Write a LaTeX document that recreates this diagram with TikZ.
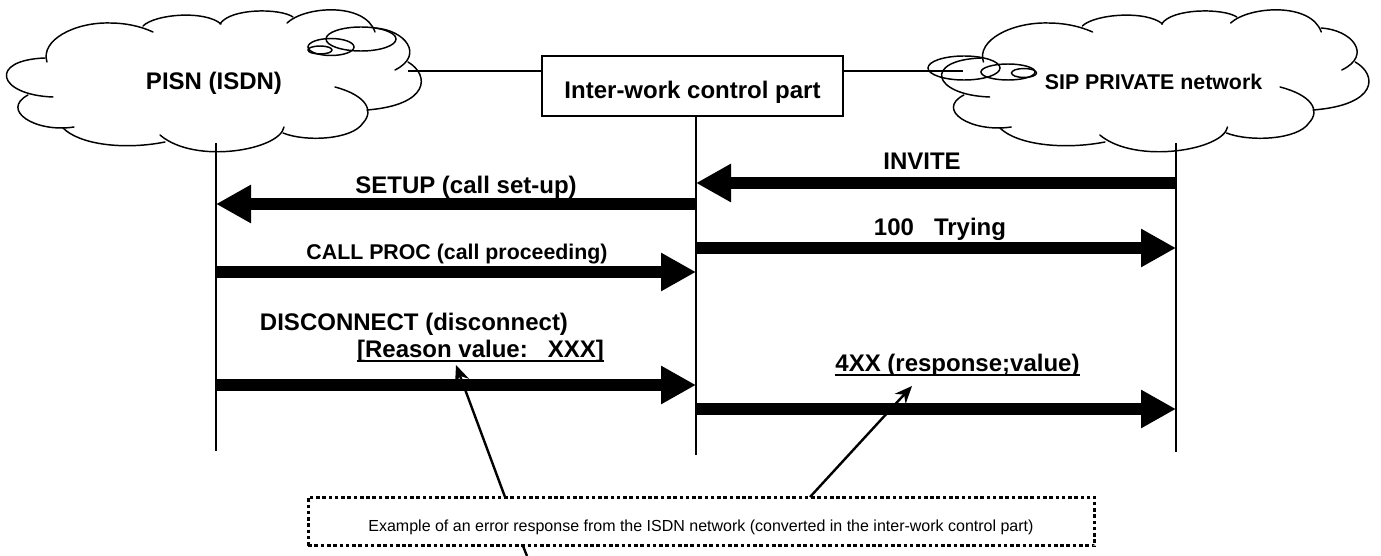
\documentclass[tikz,border=0pt]{standalone}
\usepackage{fontspec}
\setmainfont{Liberation Sans}
\usetikzlibrary{arrows.meta}
\newcommand{\cloudarcs}{%
  \draw[cloudline] (47,62) .. controls (40,40) and (75,22) .. (110,23) .. controls (125,23) and (140,26) .. (153,32);
  \draw[cloudline] (143,26) .. controls (155,14) and (205,10) .. (221,24);
  \draw[cloudline] (220,24) .. controls (230,8) and (280,8) .. (293,17);
  \draw[cloudline] (287,23) .. controls (305,6) and (365,2) .. (375,32);
  \draw[cloudline] (375,28) .. controls (405,30) and (425,55) .. (395,70);
  \draw[cloudline] (408,62) .. controls (430,75) and (430,105) .. (367,110);
  \draw[cloudline] (335,87) .. controls (365,95) and (375,110) .. (363,123) .. controls (352,140) and (305,142) .. (283,133);
  \draw[cloudline] (284,127) .. controls (280,150) and (195,165) .. (160,135);
  \draw[cloudline] (165,142) .. controls (125,150) and (80,145) .. (63,128);
  \draw[cloudline] (74,127) .. controls (35,133) and (0,110) .. (28,95);
  \draw[cloudline] (53,97) .. controls (-3,95) and (-12,60) .. (45,58);
}
\tikzset{
  x=0.75pt,y=-0.75pt,
  cloudline/.style={line width=1.1pt,line cap=round},
  life/.style={line width=1.3pt},
  msg/.style={line width=9pt,-{Triangle[length=26.25pt,width=27pt]}},
  callout/.style={line width=1.8pt,-{Stealth[length=13pt,width=11pt]}},
  big/.style={inner sep=0pt,anchor=base,font=\bfseries\fontsize{18}{20}\selectfont},
  mid/.style={inner sep=0pt,anchor=base,font=\bfseries\fontsize{16}{18}\selectfont},
  ul/.style={line width=1.6pt},
  dotbox/.style={draw,line width=2.4pt,dash pattern=on 2.7pt off 2pt},
}
\begin{document}
\begin{tikzpicture}
\useasboundingbox (0,0) rectangle (1381,556);
\cloudarcs
\begin{scope}[shift={(935,0)},xscale=1.03]
\cloudarcs
\end{scope}
\foreach \n/\cx/\cy/\rx/\ry in {a/361/39/35/12,b/331/47/23/8.5,c/320/50/12/4,d/964/68/36/12,e/1008/72/27/8,f/1024/73/12.5/4.5}
  \draw[cloudline] (\cx,\cy) ellipse [x radius=\rx,y radius=\ry];

\node[big] (pisn) at (214,90) {PISN (ISDN)};
\node[mid] (sip) at (1153.5,90) {SIP PRIVATE network};

\node[draw,line width=1.5pt,minimum width=225.75pt,minimum height=45pt,inner sep=0pt] (iw) at (692.5,86) {};
\node[big] (iwt) at (692.5,99) {Inter-work control part};

\coordinate (linkL) at (408,71);
\coordinate (linkR) at (963,71);
\draw[life] (linkL) -- (linkL -| iw.west);
\draw[life] (iw.east |- linkR) -- (linkR);

\coordinate (Ltop) at (216,143); \coordinate (Lbot) at (216,451);
\coordinate (Ctop) at (696,116); \coordinate (Cbot) at (696,455);
\coordinate (Rtop) at (1176,143); \coordinate (Rbot) at (1176,452);
\draw[life] (Ltop) -- (Lbot);
\draw[life] (Ctop) -- (Cbot);
\draw[life] (Rtop) -- (Rbot);

\coordinate (y1) at (0,183);
\coordinate (y2) at (0,204);
\coordinate (y3) at (0,248);
\coordinate (y4) at (0,272);
\coordinate (y5) at (0,385);
\coordinate (y6) at (0,409);
\draw[msg] (Rtop |- y1) -- (Ctop |- y1);
\draw[msg] (Ctop |- y2) -- (Ltop |- y2);
\draw[msg] (Ctop |- y3) -- (Rtop |- y3);
\draw[msg] (Ltop |- y4) -- (Ctop |- y4);
\draw[msg] (Ltop |- y5) -- (Ctop |- y5);
\draw[msg] (Ctop |- y6) -- (Rtop |- y6);

\node[big] (invite) at (922,170) {INVITE};
\node[big] (setup) at (466,194) {SETUP (call set-up)};
\node[big] (trying) at (940,235) {100\ \ \ Trying};
\node[mid] (proc) at (457,259) {CALL PROC (call proceeding)};
\node[big] (disc) at (414,330) {DISCONNECT (disconnect)};
\node[big] (reason) at (480.5,357) {[Reason value:\ \ \ XXX]};
\node[big] (resp) at (957.5,371) {4XX (response;value)};
\draw[ul] ([yshift=-3.2pt]reason.base west) -- ([yshift=-3.2pt]reason.base east);
\draw[ul] ([yshift=-3.2pt]resp.base west) -- ([yshift=-3.2pt]resp.base east);

\node[dotbox,minimum width=590pt,minimum height=36.5pt,inner sep=0pt] (note) at (701.5,521.5) {};
\node[inner sep=0pt,anchor=base,font=\fontsize{12}{14}\selectfont] (notet) at (701,531) {Example of an error response from the ISDN network (converted in the inter-work control part)};

\coordinate (tipA) at (456,365);
\coordinate (tipB) at (912,386);
\coordinate (footA) at (505,497);
\coordinate (footB) at (810,497);
\coordinate (stubA) at (523,546);
\coordinate (stubB) at (527,556);
\draw[callout] (footA) -- (tipA);
\draw[callout] (footB) -- (tipB);
\draw[line width=1.8pt] (stubA) -- (stubB);
\end{tikzpicture}
\end{document}
